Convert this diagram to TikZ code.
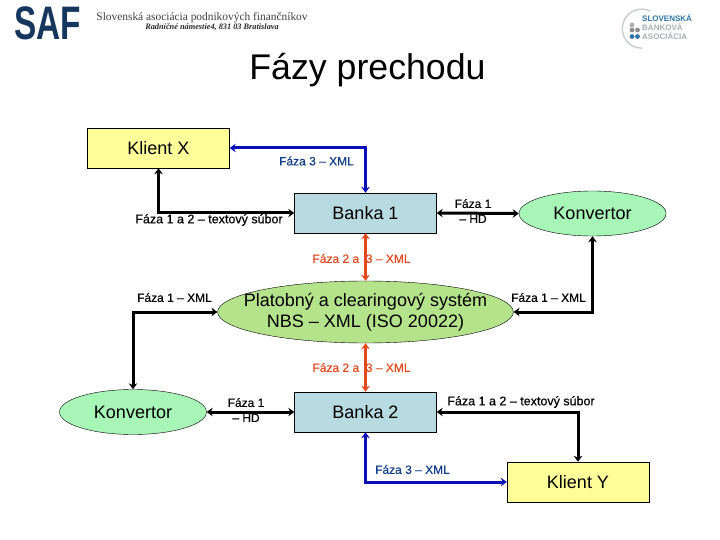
\documentclass[tikz,border=0pt]{standalone}
\usepackage{fontspec}
\usetikzlibrary{shapes.geometric,arrows.meta}
\setmainfont{Liberation Sans}
\newfontfamily\serifhead{Liberation Serif}
\newfontfamily\labfont[FakeBold=0.35]{Liberation Sans}
\definecolor{klient}{HTML}{FFFF99}
\definecolor{banka}{HTML}{B7DBE1}
\definecolor{konv}{HTML}{A8F5B8}
\definecolor{nbs}{HTML}{B5E38B}
\definecolor{modra}{HTML}{0A10B8}
\definecolor{modratext}{HTML}{123C8C}
\definecolor{oranz}{HTML}{E24A1E}
\definecolor{saf}{HTML}{17365D}
\definecolor{sivo}{HTML}{A9ADB2}
\definecolor{sba}{HTML}{2F74A8}
\begin{document}
\begin{tikzpicture}[x=1pt,y=-1pt,>={Stealth[length=6pt,width=8.5pt]},
  boxnode/.style={draw,minimum width=142pt,minimum height=40pt,inner sep=0pt,font=\fontsize{18}{21}\selectfont},
  ovalnode/.style={ellipse,draw,inner sep=0pt,font=\fontsize{18}{21}\selectfont},
  lab/.style={font=\labfont\fontsize{12}{15}\selectfont,inner sep=0pt,align=center},
  longlab/.style={lab,font=\labfont\fontsize{12.5}{15}\selectfont},
  link/.style={<->,line width=3pt}]
\useasboundingbox (0,0) rectangle (720,540);
% header
\node[text=saf,inner sep=0pt,font=\fontsize{47}{47}\selectfont\bfseries] (saf) at (47.5,23) {\scalebox{0.71}[1]{SAF}};
\node[inner sep=0pt,text=black!75,font=\serifhead\fontsize{11.4}{13}\selectfont] (asoc) at (202,18) {Slovenská asociácia podnikových finančníkov};
\node[inner sep=0pt,text=black!85,font=\serifhead\itshape\bfseries\fontsize{8.3}{10}\selectfont] (adr) at (212,27) {Radničné námestie4, 831 03 Bratislava};
\node[inner sep=0pt,font=\fontsize{35.7}{40}\selectfont] (title) at (367.5,70) {Fázy prechodu};
\draw[sivo!60,line width=1.5pt] (650,11) arc (-65:-270:19.5);
\foreach \px/\py/\pc in {632/25/sivo,632/30/black!45,637.5/30/black!45,632/36.5/sba,637.5/36.5/sba}
  \fill[\pc] (\px,\py) circle (2.4pt);
\node[inner sep=0pt,anchor=west,align=left,text=sivo,font=\bfseries\fontsize{8}{9}\selectfont] (sba) at (642,27) {\textcolor{sba}{SLOVENSKÁ}\\BANKOVÁ\\ASOCIÁCIA};
% nodes
\node[boxnode,fill=klient] (klientx) at (158.5,148) {Klient X};
\node[boxnode,fill=banka] (banka1) at (365.5,213) {Banka 1};
\node[ovalnode,fill=konv,minimum width=147pt,minimum height=45pt] (konv1) at (592.5,213.5) {Konvertor};
\node[ovalnode,fill=nbs,minimum width=295pt,minimum height=62pt,inner xsep=-17pt,align=center] (nbs) at (365.5,312) {Platobný a clearingový systém\\NBS – XML (ISO 20022)};
\node[ovalnode,fill=konv,minimum width=147pt,minimum height=45pt] (konv2) at (133,412) {Konvertor};
\node[boxnode,fill=banka] (banka2) at (365.5,412) {Banka 2};
\node[boxnode,fill=klient] (klienty) at (578,482) {Klient Y};
% connectors
\draw[link,modra] (klientx.east) -| (banka1.north);
\draw[link] (klientx.south) |- (banka1.west);
\draw[link] (banka1.east) -- (konv1.west);
\draw[link,oranz] (banka1.south) -- (nbs.north);
\draw[link] (nbs.west) -| (konv2.north);
\draw[link] (nbs.east) -| (konv1.south);
\draw[link,oranz] (nbs.south) -- (banka2.north);
\draw[link] (konv2.east) -- (banka2.west);
\draw[link] (banka2.east) -| (klienty.north);
\draw[link,modra] (banka2.south) |- (klienty.west);
% labels
\node[lab,text=modratext] (l1) at (316.5,161) {Fáza 3 – XML};
\node[longlab] (l2) at (209,220) {Fáza 1 a 2 – textový súbor};
\node[lab] (l3) at (473,211) {Fáza 1\\– HD};
\node[lab,text=oranz] (l4) at (361.5,258.5) {Fáza 2 a \ 3 – XML};
\node[lab] (l5) at (174.5,297.5) {Fáza 1 – XML};
\node[lab] (l6) at (548.5,297.5) {Fáza 1 – XML};
\node[lab,text=oranz] (l7) at (361.5,367.5) {Fáza 2 a \ 3 – XML};
\node[lab] (l8) at (246,410) {Fáza 1\\– HD};
\node[longlab] (l9) at (521,402) {Fáza 1 a 2 – textový súbor};
\node[lab,text=modratext] (l10) at (412.5,469.5) {Fáza 3 – XML};
\end{tikzpicture}
\end{document}
